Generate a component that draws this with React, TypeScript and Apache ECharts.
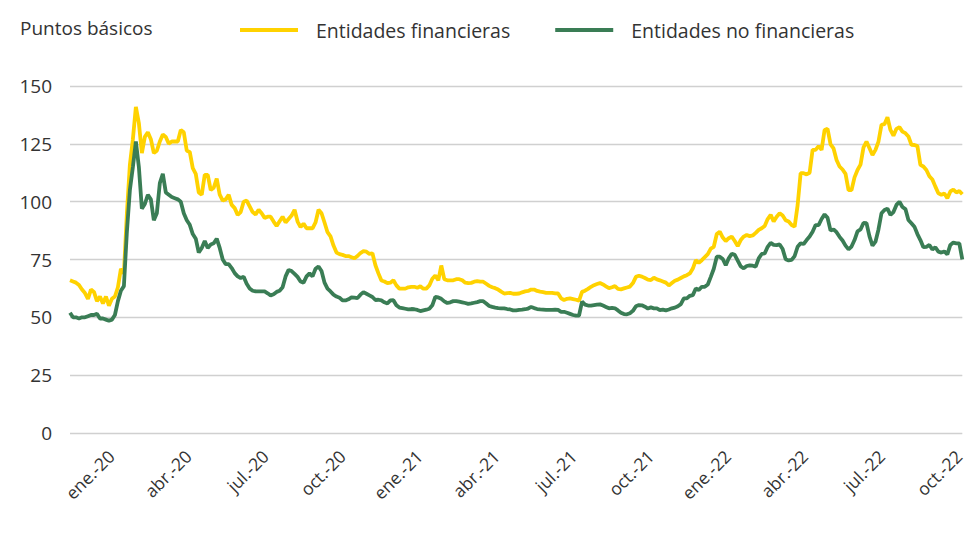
import React, { useEffect, useRef } from "react";
import * as echarts from "echarts";

// Quarterly tick labels on the x axis
const tickLabels = [
  "ene.-20", "abr.-20", "jul.-20", "oct.-20",
  "ene.-21", "abr.-21", "jul.-21", "oct.-21",
  "ene.-22", "abr.-22", "jul.-22", "oct.-22",
];

const yTicks = [0, 25, 50, 75, 100, 125, 150];

const seriesNames = ["Entidades financieras", "Entidades no financieras"];

// Entidades financieras (puntos básicos), sampled evenly in time
const financieras = [
  // ene.-20 .. may.-20
  66, 65.5, 65, 64, 62, 60.5, 58, 62, 61, 57, 59, 56, 59, 55, 58, 59, 63, 71, 69, 95,
  116, 127, 141, 134, 121, 128, 130, 127, 121, 122, 126, 129, 128, 125, 126, 126, 126, 131, 130, 122,
  121.5, 114.5, 112, 104,
  // may.-20 .. oct.-20
  103, 111.6, 111.6, 105, 106, 110, 103, 100.5, 101, 103, 98.6, 97.2, 94.3, 95.5, 100, 100.5, 98, 95.5, 94.5, 96.5,
  95, 93, 93.5, 93.5, 91.4, 89.5, 91.5, 93.5, 91, 92.5, 94, 96.5, 91.4, 89, 90.5, 88.5, 88.5, 88.5, 91, 96.5,
  95, 91,
  // oct.-20 .. mar.-21
  86.8, 85, 81, 78, 77.3, 77, 76.5, 76.5, 76, 75.5, 76.5, 77.8, 78.6, 78.4, 77.4, 77.7, 72.5, 69, 65.9, 65.5,
  64.8, 65, 66, 63.8, 62.4, 62.4, 62.4, 63, 63.2, 63.2, 62.8, 63.4, 62.4, 62.4, 63.8, 66.7, 68.1, 66, 72.4, 66.5,
  66, 66, 66,
  // mar.-21 .. jul.-21
  66.5, 66.5, 66, 65, 64.8, 64.9, 65.4, 65.6, 65.4, 65.4, 64.5, 63.6, 63, 62.6, 62, 61.1, 60.3, 60.5, 60.6, 60.2,
  60.2, 60.3, 60.8, 61.2, 61.4, 62, 62, 61.4, 61.1, 60.9, 60.6, 60.6, 60.6, 60.4, 60.3, 58.2, 57.5, 58, 58.2, 57.9,
  57.6, 57.2, 61,
  // jul.-21 .. dic.-21
  61.5, 62.3, 63.2, 63.9, 64.4, 64.8, 64.2, 63.4, 62.6, 63, 63.5, 62.3, 62.1, 62.5, 62.9, 63.3, 64.8, 67.5, 68, 67.6,
  67, 66.3, 66.1, 67.1, 66.4, 66, 65.5, 65, 63.8, 64.8, 65.8, 66.3, 67, 67.7, 68.2, 69, 71.1, 74.7, 73.6, 74.7,
  76, 77.3, 79.7,
  // dic.-21 .. may.-22
  80.5, 86, 87, 84.5, 83, 84.2, 84.9, 83, 80.8, 83.4, 84.9, 85.6, 85.1, 85.4, 86.5, 87.8, 88.5, 89.5, 92.5, 94.3,
  91.4, 93.5, 95, 94, 92, 91.4, 89.9, 89.2, 98.5, 112.3, 112.3, 111.8, 112.5, 122.4, 122.4, 124, 122.4, 131, 131.5, 124.8,
  123, 118, 115.2, 113.9, 112,
  // may.-22 .. oct.-22
  105, 105, 110.5, 113.7, 116, 123.5, 126, 123.1, 120.2, 122.4, 126, 133.2, 133.5, 136.5, 131, 128.5, 131.5, 132.2, 130.3, 129.6,
  128.2, 124.6, 124.5, 124, 115.9, 115.2, 113.7, 111, 109.6, 106.5, 103.6, 103, 103.5, 101.5, 104.4, 105.2, 104, 104.6, 103.2,
];

// Entidades no financieras (puntos básicos), same sampling
const noFinancieras = [
  52, 50, 50, 49.5, 50, 50, 50.5, 51, 51, 51.5, 49.5, 49.5, 49, 48.5, 49, 51, 57, 61.5, 63.5, 87,
  105, 115, 126, 115, 97, 99, 103, 101, 92, 95, 108, 112, 104, 103, 102, 101.5, 101, 100, 95, 92,
  90, 86, 84, 78,
  80, 83, 80, 81.5, 82, 84, 80, 75, 73, 73, 71.3, 69.1, 67.7, 67, 67.5, 64.5, 62.5, 61.5, 61.2, 61.2,
  61.2, 61.2, 60.4, 59.5, 60, 61, 61.5, 63, 67.7, 70.5, 70, 68.8, 67.5, 65.5, 65, 67.7, 69, 67.7, 71, 72,
  70, 65,
  62.4, 61.2, 59.8, 59, 58.5, 57.3, 57.3, 57.8, 58.6, 58.5, 58.3, 59.8, 60.9, 60.2, 59.5, 58.8, 57.5, 57.6, 57.3, 56.5,
  56, 57.3, 57.4, 55.2, 54.2, 54, 53.7, 53.4, 53.6, 53.5, 53.2, 52.7, 53, 53.3, 53.7, 55.2, 58.8, 58.6, 58, 56.9,
  56.2, 56.5, 57,
  57, 56.8, 56.5, 56.2, 55.8, 56, 56.3, 56.6, 57, 57, 56, 54.9, 54.5, 54.2, 54, 53.9, 53.9, 53.6, 53.4, 53,
  53, 53.2, 53.3, 53.5, 53.8, 54.5, 54, 53.6, 53.4, 53.3, 53.2, 53.2, 53.2, 53.3, 53.2, 52.4, 52.4, 52, 51.5, 51,
  50.7, 50.8, 56.8,
  55.5, 55.1, 55.1, 55.3, 55.5, 55.6, 55.1, 54.5, 53.9, 54.1, 53.9, 53, 52, 51.4, 51.3, 51.8, 52.8, 54.8, 55.3, 55.2,
  54.6, 53.8, 54.3, 53.9, 53.9, 53.1, 53.3, 53, 53.4, 53.9, 54.2, 54.8, 55.7, 58.2, 58.2, 59.3, 59.6, 62.5, 61.8, 63.2,
  63.2, 64.2, 67.5,
  71, 76.2, 76.2, 75.2, 72.5, 75.5, 77.5, 77, 74.5, 72, 71.2, 72.2, 72.5, 72.3, 71.9, 75.5, 77.4, 77.6, 80.5, 82.2,
  81.3, 81.2, 81.5, 79.5, 75.1, 74.6, 74.8, 76.5, 80.5, 82, 81.7, 83.4, 84.9, 87, 89.9, 89.9, 92.5, 94.5, 93, 87.5,
  88, 86.8, 84.8, 83.2, 81,
  79.4, 80.6, 83.4, 87.2, 88, 90.8, 90.7, 85, 81, 82.7, 88, 95, 96.4, 97, 94.3, 95.5, 98.6, 100, 97.7, 96.8,
  92.1, 90.7, 89.2, 86, 83.4, 80.3, 80.5, 81.3, 79.3, 80.3, 78.4, 78, 78.5, 77.2, 81.3, 82.3, 82, 82, 75,
];

const FONT = "'Open Sans', 'Noto Sans', sans-serif";
const YELLOW = "#FFD200";
const GREEN = "#3A7D55";
const TEXT = "#333333";

export default function App() {
  const ref = useRef<HTMLDivElement>(null);

  useEffect(() => {
    if (!ref.current) return;
    const chart = echarts.init(ref.current, null, { renderer: "svg" });
    const n = financieras.length;
    // position (in sample units) of the first quarterly label and the quarter length
    const firstTick = 13.7;
    const quarter = 25.73;
    const tickValues = tickLabels.map((_, k) => firstTick + k * quarter);

    chart.setOption({
      animation: false,
      backgroundColor: "#ffffff",
      title: {
        text: "Puntos básicos",
        left: 15,
        top: 13,
        textStyle: { fontFamily: FONT, fontSize: 19, fontWeight: "normal", color: TEXT },
      },
      legend: {
        left: 235,
        top: 15,
        icon: "rect",
        itemWidth: 58,
        itemHeight: 4,
        itemGap: 45,
        textStyle: { fontFamily: FONT, fontSize: 19.5, color: TEXT, padding: [0, 0, 0, 13] },
        data: seriesNames,
      },
      grid: { left: 70, right: 3, top: 86, bottom: 106 },
      xAxis: {
        type: "value",
        min: 0,
        max: n - 1,
        axisLine: { show: false },
        axisTick: { show: false },
        splitLine: { show: false },
        axisLabel: {
          customValues: tickValues,
          rotate: 45,
          margin: 20,
          fontFamily: FONT,
          fontSize: 17.5,
          color: TEXT,
          formatter: (v: number) => {
            const k = Math.round((v - firstTick) / quarter);
            return tickLabels[k] ?? "";
          },
        },
      },
      yAxis: {
        type: "value",
        min: yTicks[0],
        max: yTicks[yTicks.length - 1],
        interval: 25,
        axisLine: { show: false },
        axisTick: { show: false },
        axisLabel: { fontFamily: FONT, fontSize: 19, color: TEXT, margin: 18 },
        splitLine: { lineStyle: { color: "#d0d0d0", width: 1.3 } },
      },
      series: [
        {
          name: seriesNames[0],
          type: "line",
          symbol: "none",
          color: YELLOW,
          lineStyle: { width: 3.8, color: YELLOW },
          data: financieras.map((v, i) => [i, v]),
        },
        {
          name: seriesNames[1],
          type: "line",
          symbol: "none",
          color: GREEN,
          lineStyle: { width: 3.8, color: GREEN },
          data: noFinancieras.map((v, i) => [i, v]),
        },
      ],
    });
    return () => chart.dispose();
  }, []);

  return (
    <div
      ref={ref}
      style={{ position: "fixed", left: 0, top: 0, width: 967, height: 539, background: "#fff" }}
    />
  );
}
